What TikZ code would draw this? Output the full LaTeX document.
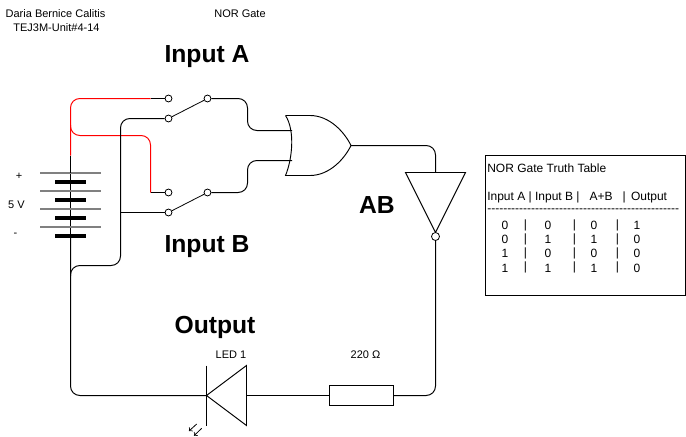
\documentclass[tikz,border=0pt]{standalone}
\usepackage{fontspec}
\setmainfont{Liberation Sans}[Ligatures=TeXOff]
\newcommand{\smalltxt}{\fontsize{8.25}{10}\selectfont}
\newcommand{\tabletxt}{\fontsize{9}{11}\selectfont}
\newcommand{\bigtxt}{\fontsize{18.5}{22}\selectfont\bfseries}
\tikzset{
  wire/.style={line width=0.75pt, rounded corners=7pt},
  redwire/.style={wire, red},
  term/.style={circle, draw, fill=white, line width=0.6pt, inner sep=0pt, minimum size=5.2pt},
  label/.style={inner sep=0pt, font=\smalltxt},
  title/.style={inner sep=0pt, font=\bigtxt},
  cell/.style={inner sep=0pt, font=\tabletxt},
  longplate/.style={line width=1.5pt, black!50},
  shortplate/.style={line width=3.2pt, black}
}
\begin{document}
\begin{tikzpicture}[x=0.75pt, y=-0.75pt]
  \useasboundingbox (0,0) rectangle (686,436);

  % labels
  \node[label] (name) at (55.5,13.5) {Daria Bernice Calitis};
  \node[label] (unit) at (56.5,27.5) {TEJ3M-Unit\#4-14};
  \node[label] (gatename) at (240,14) {NOR Gate};
  \node[title] (inputA) at (207,57) {Input A};
  \node[title] (inputB) at (207,247) {Input B};
  \node[title] (ab) at (377,205.5) {AB};
  \node[title] (output) at (215,327) {Output};
  \node[label] (plus) at (19,176) {+};
  \node[label] (volts) at (16.5,205) {5 V};
  \node[label] (minus) at (15.5,235) {-};
  \node[label] (ledname) at (231,355) {LED 1};
  \node[label] (ohms) at (365.5,355) {220 Ω};

  % switches
  \node[term] (a1) at (168.5,98.5) {};
  \node[term] (a2) at (168.5,118.5) {};
  \node[term] (a3) at (207.5,98.5) {};
  \node[term] (b1) at (168.5,192.5) {};
  \node[term] (b2) at (168.5,212.5) {};
  \node[term] (b3) at (207.5,192.5) {};
  \draw[line width=0.6pt] (a2) -- (a3);
  \draw[line width=0.6pt] (b2) -- (b3);

  % battery
  \coordinate (batTop) at (70.5,172.5);
  \coordinate (batBot) at (70.5,236.5);
  \coordinate (redEnd) at (70.5,155.5);
  \draw[line width=0.4pt] (batTop) -- (batBot);
  \foreach \y in {173,191,209,227} {
    \draw[longplate] (40,\y) -- (100.5,\y);
    \draw[shortplate] (55,\y+9) -- (86,\y+9);
  }

  % gate
  \coordinate (gateA) at (292,130.5);
  \coordinate (gateB) at (292,160.5);
  \coordinate (gateOut) at (351,145.5);
  \draw[line width=0.7pt] (285.5,115.5) -- (310,115.5) .. controls (330,115.5) and (345,133) .. (gateOut)
    .. controls (345,158) and (330,175.5) .. (310,175.5) -- (285.5,175.5)
    .. controls (292,160) and (295.5,131) .. (285.5,115.5);

  % inverter, led, resistor
  \coordinate (invIn) at (435.5,172.5);
  \draw[line width=0.7pt] (405.5,172.5) -- (465.5,172.5) -- (435.5,232.5) -- cycle;
  \node[term, minimum size=6pt] (invOut) at (435.5,236.5) {};
  \node[draw, line width=0.7pt, minimum width=48pt, minimum height=15pt, inner sep=0pt] (res) at (361.5,395.5) {};
  \coordinate (ledK) at (206.5,395.5);
  \coordinate (ledA) at (246.5,395.5);
  \draw[line width=0.7pt] (206.5,365.5) -- (206.5,425.5);
  \draw[line width=0.7pt] (ledK) -- (246.5,365.5) -- (246.5,425.5) -- cycle;
  \draw[->, line width=0.6pt] (196.7,424) -- (189,431);
  \draw[->, line width=0.6pt] (201.7,428.3) -- (194,435.7);

  % wires
  \draw[redwire] (redEnd) -- (70.5,98.5) -- (150.5,98.5);
  \draw[redwire] (70.5,125) -- (70.5,135.5) -- (150.5,135.5) -- (150.5,192.5);
  \draw[wire] (150.5,98.5) -- (a1);
  \draw[wire] (150.5,192.5) -- (b1);
  \draw[wire] (redEnd) -- (batTop);
  \draw[wire] (batBot) -- (70.5,395.5) -- (ledK);
  \draw[wire] (70.5,276) -- (70.5,265.5) -- (120.5,265.5) -- (120.5,118.5) -- (a2);
  \draw[wire] (120.5,212.5) -- (b2);
  \draw[wire] (a3) -- (247.5,98.5) -- (247.5,130.5) -- (gateA);
  \draw[wire] (b3) -- (247.5,192.5) -- (247.5,160.5) -- (gateB);
  \draw[wire] (gateOut) -- (435.5,145.5) -- (invIn);
  \draw[wire] (invOut) -- (435.5,395.5) -- (res);
  \draw[wire] (res) -- (ledA);

  % truth table
  \node[draw, line width=0.8pt, minimum width=150pt, minimum height=105pt, inner sep=0pt] (tbl) at (585.5,225.5) {};
  \node[cell, anchor=west] (tbltitle) at (487,168) {NOR Gate Truth Table};
  \node[cell, anchor=west] (tblhead) at (487,197) {Input A | Input B |\ \ \ A+B\ \ \ | \,Output};
  \node[cell, anchor=west] (tblrule) at (487,211) {------------------------------------------------};
  \foreach \a/\b/\c/\d [count=\r from 0] in {0/0/0/1, 0/1/1/0, 1/0/0/0, 1/1/1/0} {
    \node[cell] (ra\r) at (505,225+14.3*\r) {\a};
    \node[cell] (rb\r) at (548,225+14.3*\r) {\b};
    \node[cell] (rc\r) at (594,225+14.3*\r) {\c};
    \node[cell] (rd\r) at (637,225+14.3*\r) {\d};
    \node[cell] (sa\r) at (525.5,225+14.3*\r) {|};
    \node[cell] (sb\r) at (574.5,225+14.3*\r) {|};
    \node[cell] (sc\r) at (617.5,225+14.3*\r) {|};
  }
\end{tikzpicture}
\end{document}
